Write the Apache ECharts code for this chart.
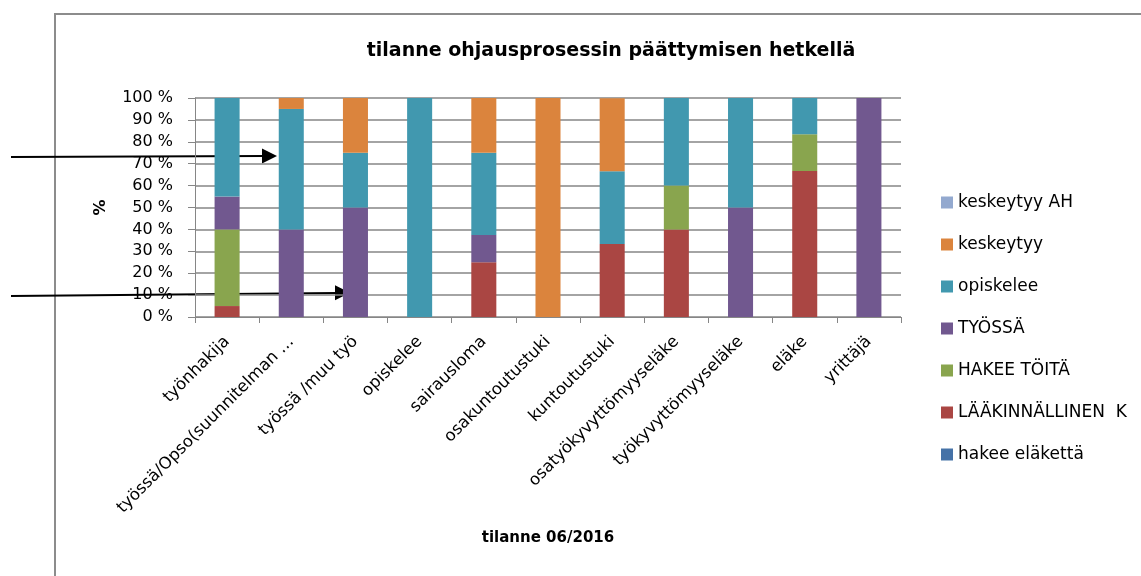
<!DOCTYPE html>
<html>
<head>
<meta charset="utf-8">
<script src="https://cdn.jsdelivr.net/npm/echarts@6/dist/echarts.min.js"></script>
<style>
html,body{margin:0;padding:0;background:#fff;}
#chart{width:1141px;height:576px;}
</style>
</head>
<body>
<div id="chart"></div>
<script>
const categories = ['työnhakija','työssä/Opso(suunnitelman …','työssä /muu työ','opiskelee','sairausloma','osakuntoutustuki','kuntoutustuki','osatyökyvyttömyyseläke','työkyvyttömyyseläke','eläke','yrittäjä'];
const hakeeElakettaValues   = [0,0,0,0,0,0,0,0,0,0,0];
const laakinnallinenValues  = [5,0,0,0,25,0,33.3,40,0,66.7,0];
const hakeeToitaValues      = [35,0,0,0,0,0,0,20,0,16.7,0];
const tyossaValues          = [15,40,50,0,12.5,0,0,0,50,0,100];
const opiskeleeValues       = [45,55,25,100,37.5,0,33.3,40,50,16.7,0];
const keskeytyyValues       = [0,5,25,0,25,100,33.3,0,0,0,0];
const keskeytyyAHValues     = [0,0,0,0,0,0,0,0,0,0,0];
const yTicks = [0,10,20,30,40,50,60,70,80,90,100];

const FONT = 'DejaVu Sans';
const seriesDefs = [
  {name:'hakee eläkettä', data:hakeeElakettaValues, color:'#4572A7'},
  {name:'LÄÄKINNÄLLINEN  K', data:laakinnallinenValues, color:'#AA4643'},
  {name:'HAKEE TÖITÄ', data:hakeeToitaValues, color:'#89A54E'},
  {name:'TYÖSSÄ', data:tyossaValues, color:'#71588F'},
  {name:'opiskelee', data:opiskeleeValues, color:'#4198AF'},
  {name:'keskeytyy', data:keskeytyyValues, color:'#DB843D'},
  {name:'keskeytyy AH', data:keskeytyyAHValues, color:'#93A9CF'}
];

const chart = echarts.init(document.getElementById('chart'), null, {renderer:'canvas'});
const option = {
  animation:false,
  backgroundColor:'#fff',
  title:{
    text:'tilanne ohjausprosessin päättymisen hetkellä',
    left:606, top:37, textAlign:'center',
    textStyle:{fontFamily:FONT, fontWeight:'bold', fontSize:19, color:'#000'}
  },
  grid:{left:195, right:240, top:98, bottom:259, containLabel:false},
  legend:{
    orient:'vertical', left:941, top:194, padding:0,
    icon:'rect', itemWidth:12, itemHeight:12, itemGap:25,
    textStyle:{fontFamily:FONT, fontSize:17, color:'#000', lineHeight:16},
    data:seriesDefs.map(s=>s.name).reverse()
  },
  xAxis:{
    type:'category', data:categories,
    name:'tilanne 06/2016', nameLocation:'middle', nameGap:214,
    nameTextStyle:{fontFamily:FONT, fontWeight:'bold', fontSize:15, color:'#000'},
    axisLine:{lineStyle:{color:'#868686', width:1}},
    axisTick:{show:true, length:6, lineStyle:{color:'#868686'}},
    axisLabel:{rotate:45, margin:22, fontFamily:FONT, fontSize:16.5, color:'#000', interval:0},
    splitLine:{show:false}
  },
  yAxis:{
    type:'value', min:0, max:100, interval:10,
    name:'%', nameLocation:'middle', nameGap:86, nameRotate:90,
    nameTextStyle:{fontFamily:FONT, fontWeight:'bold', fontSize:16, color:'#000'},
    axisLine:{show:true, lineStyle:{color:'#868686', width:1}},
    axisTick:{show:true, length:7, lineStyle:{color:'#868686'}},
    axisLabel:{margin:22, fontFamily:FONT, fontSize:16, color:'#000',
      formatter:function(v){return yTicks.indexOf(v)>=0 ? v+' %' : '';}},
    splitLine:{show:true, lineStyle:{color:'#868686', width:1.5}}
  },
  series: seriesDefs.map(s=>({
    name:s.name, type:'bar', stack:'total', data:s.data,
    barWidth:'39%', itemStyle:{color:s.color}, emphasis:{disabled:true}
  })),
  graphic:[
    {type:'rect', silent:true, shape:{x:55, y:14, width:1200, height:700},
     style:{fill:null, stroke:'#8c8c8c', lineWidth:2}, z:-1},
    {type:'line', silent:true, shape:{x1:11, y1:157, x2:264, y2:156}, style:{stroke:'#000', lineWidth:2}},
    {type:'polygon', silent:true, shape:{points:[[277,156],[262,148.5],[262,163.5]]}, style:{fill:'#000'}},
    {type:'line', silent:true, shape:{x1:11, y1:296, x2:337, y2:293}, style:{stroke:'#000', lineWidth:2}},
    {type:'polygon', silent:true, shape:{points:[[350,292.7],[335,285.3],[335,300.3]]}, style:{fill:'#000'}}
  ]
};
chart.setOption(option);
</script>
</body>
</html>
